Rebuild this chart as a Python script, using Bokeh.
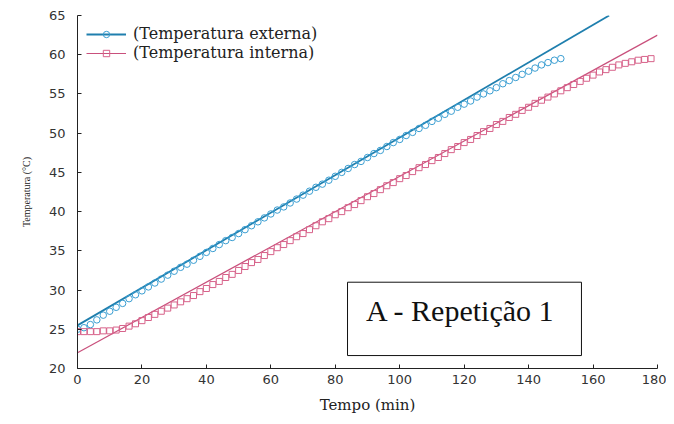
from bokeh.plotting import figure
from bokeh.models import Range1d, Legend, LegendItem, BoxAnnotation, Label, FixedTicker
from bokeh.embed import file_html
from bokeh.resources import INLINE

# ---- data ----
t_ext = [0, 2, 4, 6, 8, 10, 12, 14, 16, 18, 20, 22, 24, 26, 28, 30, 32, 34, 36, 38,
         40, 42, 44, 46, 48, 50, 52, 54, 56, 58, 60, 62, 64, 66, 68, 70, 72, 74, 76, 78,
         80, 82, 84, 86, 88, 90, 92, 94, 96, 98, 100, 102, 104, 106, 108, 110, 112, 114,
         116, 118, 120, 122, 124, 126, 128, 130, 132, 134, 136, 138, 140, 142, 144, 146,
         148, 150]
temp_ext = [25.0, 25.2, 25.6, 26.2, 26.8, 27.3, 27.8, 28.3, 28.9, 29.4,
            29.9, 30.4, 30.9, 31.4, 31.9, 32.4, 32.9, 33.3, 33.8, 34.3,
            34.8, 35.3, 35.8, 36.3, 36.7, 37.2, 37.7, 38.2, 38.7, 39.2,
            39.7, 40.2, 40.6, 41.1, 41.6, 42.1, 42.6, 43.1, 43.5, 44.0,
            44.5, 45.0, 45.5, 46.0, 46.4, 46.9, 47.4, 47.8, 48.3, 48.8,
            49.2, 49.7, 50.1, 50.6, 51.0, 51.5, 51.9, 52.4, 52.8, 53.3,
            53.7, 54.1, 54.6, 55.0, 55.4, 55.8, 56.3, 56.7, 57.1, 57.5,
            57.9, 58.3, 58.7, 59.0, 59.3, 59.5]

t_int = [0, 2, 4, 6, 8, 10, 12, 14, 16, 18, 20, 22, 24, 26, 28, 30, 32, 34, 36, 38,
         40, 42, 44, 46, 48, 50, 52, 54, 56, 58, 60, 62, 64, 66, 68, 70, 72, 74, 76, 78,
         80, 82, 84, 86, 88, 90, 92, 94, 96, 98, 100, 102, 104, 106, 108, 110, 112, 114,
         116, 118, 120, 122, 124, 126, 128, 130, 132, 134, 136, 138, 140, 142, 144, 146,
         148, 150, 152, 154, 156, 158, 160, 162, 164, 166, 168, 170, 172, 174, 176, 178]
temp_int = [24.7, 24.7, 24.7, 24.7, 24.8, 24.8, 24.9, 25.1, 25.4, 25.7, 26.1, 26.5, 26.9,
            27.3, 27.7, 28.1, 28.5, 28.9, 29.3, 29.8, 30.2, 30.7, 31.1, 31.6, 32.0, 32.5,
            33.0, 33.5, 33.9, 34.4, 34.9, 35.4, 35.8, 36.3, 36.8, 37.2, 37.7, 38.2, 38.7,
            39.1, 39.6, 40.0, 40.5, 40.9, 41.4, 41.9, 42.3, 42.8, 43.3, 43.7, 44.2, 44.6,
            45.1, 45.6, 46.0, 46.5, 46.9, 47.4, 47.9, 48.3, 48.8, 49.2, 49.7, 50.2, 50.6,
            51.1, 51.5, 52.0, 52.4, 52.9, 53.3, 53.8, 54.2, 54.6, 55.0, 55.4, 55.8, 56.2,
            56.6, 57.0, 57.4, 57.8, 58.1, 58.4, 58.7, 58.9, 59.1, 59.3, 59.4, 59.5]

# fitted straight lines (end points)
fit_ext_t = [0, 165]
fit_ext_y = [25.5, 65.0]
fit_int_t = [0, 180]
fit_int_y = [22.0, 62.5]

x_ticks = [0, 20, 40, 60, 80, 100, 120, 140, 160, 180]
y_ticks = [20, 25, 30, 35, 40, 45, 50, 55, 60, 65]

label_ext = "(Temperatura externa)"
label_int = "(Temperatura interna)"
panel_text = "A - Repetição 1"

BLUE_LINE = "#1f7fae"
BLUE_MK = "#3a9ed2"
PINK_LINE = "#c9507c"
PINK_MK = "#d7628a"

p = figure(width=666, height=416, output_backend="svg", toolbar_location=None,
           x_range=Range1d(0, 180), y_range=Range1d(20, 65),
           min_border_left=77, min_border_right=9, min_border_top=15, min_border_bottom=46)
p.outline_line_color = None
p.xgrid.visible = False
p.ygrid.visible = False
p.background_fill_color = "white"

# fitted lines
l_ext = p.line(fit_ext_t, fit_ext_y, line_color=BLUE_LINE, line_width=1.8)
l_int = p.line(fit_int_t, fit_int_y, line_color=PINK_LINE, line_width=1.2)

# data markers
s_ext = p.scatter(t_ext, temp_ext, marker="circle", size=6.5, line_color=BLUE_MK,
                  fill_color=None, line_width=1)
s_int = p.scatter(t_int, temp_int, marker="square", size=6, line_color=PINK_MK,
                  fill_color=None, line_width=1)

legend = Legend(items=[LegendItem(label=label_ext, renderers=[l_ext, s_ext]),
                       LegendItem(label=label_int, renderers=[l_int, s_int])],
                location="top_left")
legend.label_text_font = "DejaVu Serif"
legend.label_text_font_size = "16px"
legend.label_text_color = "#222222"
legend.background_fill_alpha = 0
legend.border_line_alpha = 0
legend.glyph_width = 40
legend.glyph_height = 16
legend.spacing = 0
legend.padding = 6
legend.margin = 3
legend.label_standoff = 7
p.add_layout(legend)

# panel box
box = BoxAnnotation(left=83.8, right=156.4, bottom=21.65, top=31.0, fill_alpha=0,
                    line_color="#111111", line_alpha=1.0, line_width=1)
p.add_layout(box)
p.add_layout(Label(x=118.9, y=27.4, text=panel_text, text_align="center",
                   text_baseline="middle", text_font="Liberation Serif",
                   text_font_size="30px", text_color="#111111"))

# axes
for ax in (p.xaxis[0], p.yaxis[0]):
    ax.axis_line_color = "#222222"
    ax.major_tick_line_color = "#222222"
    ax.major_tick_in = 4
    ax.major_tick_out = 0
    ax.minor_tick_line_color = None
    ax.major_label_text_font = "DejaVu Sans"
    ax.major_label_text_font_size = "13px"
    ax.major_label_text_color = "#333333"
    ax.axis_label_text_font_style = "normal"
    ax.axis_label_text_color = "#222222"

p.xaxis.ticker = FixedTicker(ticks=x_ticks)
p.yaxis.ticker = FixedTicker(ticks=y_ticks)
p.xaxis.axis_label = "Tempo (min)"
p.xaxis.axis_label_text_font = "DejaVu Serif"
p.xaxis.axis_label_text_font_size = "15px"
p.xaxis.major_label_standoff = 6
p.xaxis.axis_label_standoff = 9
p.yaxis.axis_label = "Temperatura (°C)"
p.yaxis.axis_label_text_font = "Liberation Serif"
p.yaxis.axis_label_text_font_size = "10px"
p.yaxis.major_label_standoff = 12
p.yaxis.axis_label_standoff = 14

open("out.html", "w").write(file_html(p, INLINE))
